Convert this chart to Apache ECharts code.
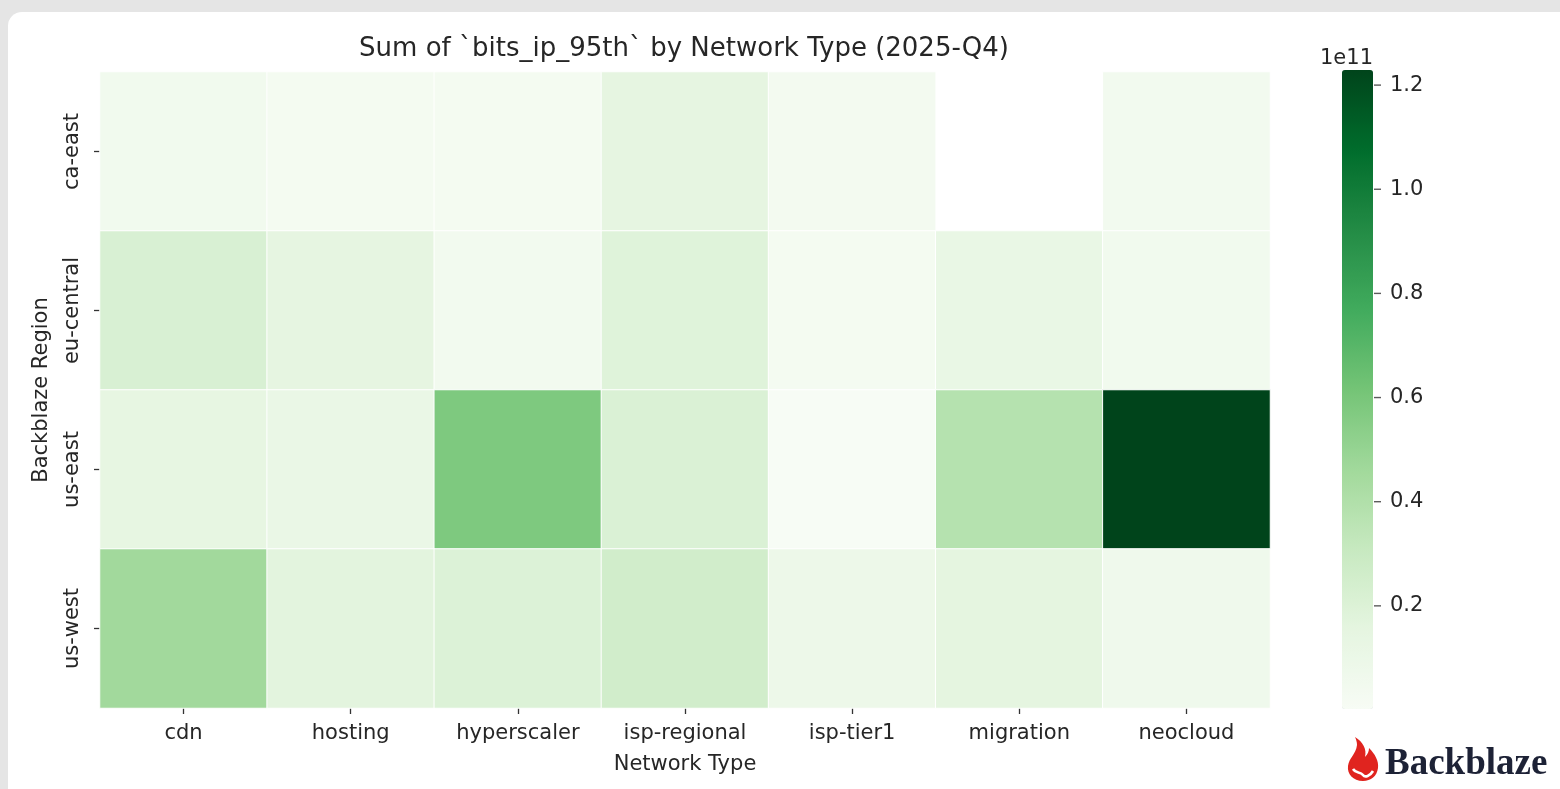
<!DOCTYPE html>
<html>
<head>
<meta charset="utf-8">
<script src="https://cdn.jsdelivr.net/npm/echarts@6/dist/echarts.min.js"></script>
<style>
  html, body { margin: 0; padding: 0; width: 1560px; height: 789px; overflow: hidden; background: #e5e5e5; }
  #card { position: absolute; left: 8px; top: 12px; width: 1580px; height: 810px; background: #ffffff; border-radius: 14px; }
  #chart { position: absolute; left: 0; top: 0; width: 1560px; height: 789px; }
</style>
</head>
<body>
<div id="card"></div>
<div id="chart"></div>
<script>
// ---- data ----
const networkTypes = ['cdn', 'hosting', 'hyperscaler', 'isp-regional', 'isp-tier1', 'migration', 'neocloud'];
const regions = ['ca-east', 'eu-central', 'us-east', 'us-west'];
const caEast    = [5.4e9, 2.8e9, 2.8e9, 1.47e10, 3.7e9, null, 4.5e9];
const euCentral = [2.2e10, 1.47e10, 4.5e9, 1.86e10, 2.8e9, 1.2e10, 5.4e9];
const usEast    = [1.38e10, 1.13e10, 5.8e10, 2.1e10, 2.0e8, 3.8e10, 1.229e11];
const usWest    = [4.6e10, 1.65e10, 2.0e10, 2.57e10, 8.7e9, 1.55e10, 7.0e9];
const colorbarTicks = [2e10, 4e10, 6e10, 8e10, 1e11, 1.2e11];
const greens = ['#f7fcf5', '#e5f5e0', '#c7e9c0', '#a1d99b', '#74c476', '#41ab5d', '#238b45', '#006d2c', '#00441b'];

const rows = [caEast, euCentral, usEast, usWest];
const heatData = [];
rows.forEach((row, yi) => row.forEach((v, xi) => heatData.push([xi, yi, v === null ? '-' : v])));
const allVals = rows.flat().filter(v => v !== null);
const vMin = Math.min(...allVals), vMax = Math.max(...allVals);

const FONT = 'DejaVu Sans';
const TXT = '#262626';

const flameSvg = '<svg xmlns="http://www.w3.org/2000/svg" width="32" height="45" viewBox="0 0 32 45">' +
  '<path d="M16,44 C6,44 0,37 1,29 C2,21 9,17 10,8 C10,5 9,2 8,0 C16,5 20,12 18,20 C21,17 22,14 22,11 C28,17 32,24 31,31 C30,39 24,44 16,44 Z" fill="#e0241f"/>' +
  '<path d="M6,32 C9,37 13,34 16,38 C18,41 23,39 26,34" fill="none" stroke="#ffffff" stroke-width="2.6"/>' +
  '</svg>';
const flameUri = 'data:image/svg+xml;charset=utf-8,' + encodeURIComponent(flameSvg);

const CB_TOP = 70, CB_H = 640;

const chart = echarts.init(document.getElementById('chart'), null, { renderer: 'canvas' });
chart.setOption({
  backgroundColor: 'transparent',
  animation: false,
  textStyle: { fontFamily: FONT },
  title: {
    text: 'Sum of `bits_ip_95th` by Network Type (2025-Q4)',
    left: 679, top: 31, textAlign: 'center',
    textStyle: { fontFamily: FONT, fontSize: 26, fontWeight: 'normal', color: TXT }
  },
  grid: [
    { left: 100, right: 290, top: 72, bottom: 81 },
    { left: 1342, width: 31, top: CB_TOP, height: CB_H }
  ],
  xAxis: [
    {
      type: 'category', data: networkTypes, gridIndex: 0,
      name: 'Network Type', nameLocation: 'middle', nameGap: 46,
      nameTextStyle: { fontFamily: FONT, fontSize: 21, color: TXT },
      axisLine: { show: false },
      axisTick: { show: true, alignWithLabel: true, length: 6, lineStyle: { color: '#333', width: 1.3 } },
      axisLabel: { fontFamily: FONT, fontSize: 21, color: TXT, margin: 15 },
      splitLine: { show: false }
    },
    { type: 'value', gridIndex: 1, show: false, min: 0, max: 1 }
  ],
  yAxis: [
    {
      type: 'category', data: regions, gridIndex: 0, inverse: true,
      name: 'Backblaze Region', nameLocation: 'middle', nameGap: 48, nameRotate: 90,
      nameTextStyle: { fontFamily: FONT, fontSize: 21, color: TXT },
      axisLine: { show: false },
      axisTick: { show: true, alignWithLabel: true, length: 6, lineStyle: { color: '#333', width: 1.3 } },
      axisLabel: { fontFamily: FONT, fontSize: 21, color: TXT, rotate: 90, margin: 17 },
      splitLine: { show: false }
    },
    {
      type: 'value', gridIndex: 1, position: 'right', min: 0, max: vMax,
      axisLine: { show: false },
      splitLine: { show: false },
      axisTick: { show: false },
      axisLabel: {
        show: true, customValues: colorbarTicks, fontFamily: FONT, fontSize: 21, color: TXT, margin: 17,
        formatter: v => (v / 1e11).toFixed(1)
      }
    }
  ],
  visualMap: {
    type: 'continuous', seriesIndex: 0,
    min: vMin, max: vMax,
    orient: 'vertical', left: 1342, top: CB_TOP, padding: 0,
    itemWidth: 31, itemHeight: CB_H - 1,
    calculable: false, hoverLink: false, showLabel: false,
    inRange: { color: greens }
  },
  graphic: [
    { type: 'text', left: 1320, top: 48, style: { text: '1e11', font: '21px "DejaVu Sans"', fill: TXT } },
    { type: 'image', left: 1347, top: 737, style: { image: flameUri, width: 32, height: 45 } },
    { type: 'text', left: 1385, top: 746, style: { text: 'Backblaze', font: 'bold 37px "Liberation Serif"', fill: '#1d2236' } }
  ],
  series: [
    {
      type: 'heatmap', xAxisIndex: 0, yAxisIndex: 0, data: heatData,
      itemStyle: { borderColor: '#ffffff', borderWidth: 1 },
      emphasis: { disabled: true }
    },
    {
      // colorbar tick marks, positioned by the colorbar's value axis
      type: 'scatter', xAxisIndex: 1, yAxisIndex: 1, silent: true,
      data: colorbarTicks.map(v => [1, v]),
      symbol: 'rect', symbolSize: [7, 1.4], symbolOffset: [4.5, 0],
      itemStyle: { color: '#333' }, z: 5
    }
  ]
});
</script>
</body>
</html>
